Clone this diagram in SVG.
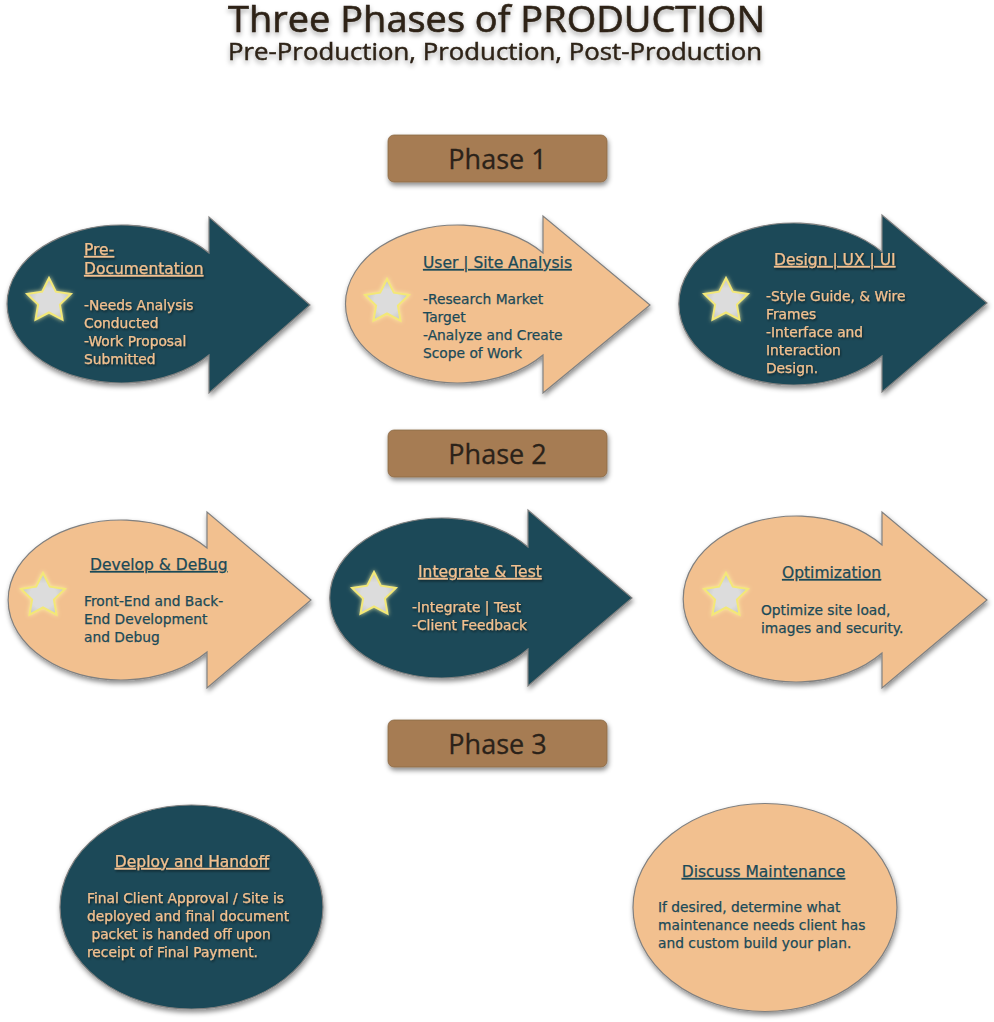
<svg xmlns="http://www.w3.org/2000/svg" width="994" height="1022" viewBox="0 0 994 1022">
<defs>
<style>
.teal{fill:#1b4a58;stroke:#808080;stroke-width:1.2}
.peach{fill:#f2c08f;stroke:#808080;stroke-width:1.2}
.phase{fill:#a67c52;stroke:#8a6a48;stroke-width:0.8}
.ptxt{font-family:"Open Sans","Liberation Sans",sans-serif;font-size:27px;fill:#2b2219;stroke:#2b2219;stroke-width:0.3;text-anchor:middle}
.hd{font-family:"DejaVu Sans","Liberation Sans",sans-serif;font-size:15.5px;text-decoration:underline}
.bd{font-family:"DejaVu Sans","Liberation Sans",sans-serif;font-size:13.8px}
.lt{fill:#f2c08f;stroke:#f2c08f;stroke-width:0.25}
.dk{fill:#1b4a58;stroke:#1b4a58;stroke-width:0.25}
.star{fill:url(#sg);stroke:#f3e877;stroke-width:2;stroke-linejoin:miter}
</style>
<filter id="sh" x="-10%" y="-10%" width="125%" height="130%">
<feDropShadow dx="1" dy="3" stdDeviation="2.5" flood-color="#000" flood-opacity="0.45"/>
</filter>
<filter id="tsh" x="-5%" y="-20%" width="110%" height="160%">
<feDropShadow dx="0" dy="3" stdDeviation="2.5" flood-color="#000" flood-opacity="0.35"/>
</filter>
<filter id="ts" x="-5%" y="-20%" width="110%" height="160%">
<feDropShadow dx="1" dy="1.5" stdDeviation="1" flood-color="#000" flood-opacity="0.55"/>
</filter>
<filter id="glow" x="-30%" y="-30%" width="160%" height="160%">
<feGaussianBlur in="SourceAlpha" stdDeviation="2" result="b"/>
<feFlood flood-color="#fff6a8" flood-opacity="0.8"/>
<feComposite in2="b" operator="in" result="g"/>
<feMerge><feMergeNode in="g"/><feMergeNode in="SourceGraphic"/></feMerge>
</filter>
<radialGradient id="sg" cx="0.5" cy="0.55" r="0.6">
<stop offset="0.5" stop-color="#dcdcdc"/>
<stop offset="1" stop-color="#bdbdbd"/>
</radialGradient>
<path id="st" class="star" filter="url(#glow)" d="M0,-23 L6.8,-9.3 L21.9,-7.1 L10.9,3.6 L13.5,18.6 L0,11.5 L-13.5,18.6 L-10.9,3.6 L-21.9,-7.1 L-6.8,-9.3 Z"/>
</defs>
<rect width="994" height="1022" fill="#ffffff"/>

<g id="title" filter="url(#tsh)" fill="#2e2419" stroke="#2e2419">
<text x="496.5" y="32" text-anchor="middle" font-family="Open Sans, Liberation Sans, sans-serif" font-size="36" stroke-width="0.6" textLength="537" lengthAdjust="spacingAndGlyphs">Three Phases of PRODUCTION</text>
<text x="495" y="60" text-anchor="middle" font-family="Open Sans, Liberation Sans, sans-serif" font-size="23" stroke-width="0.45" textLength="534" lengthAdjust="spacingAndGlyphs">Pre-Production, Production, Post-Production</text>
</g>

<g id="phase1">
<rect class="phase" x="388" y="135" width="219" height="47" rx="6" filter="url(#sh)"/>
<text class="ptxt" x="497.5" y="169">Phase 1</text>
</g>
<g id="phase2">
<rect class="phase" x="388" y="430" width="219" height="47" rx="6" filter="url(#sh)"/>
<text class="ptxt" x="497.5" y="464">Phase 2</text>
</g>
<g id="phase3">
<rect class="phase" x="388" y="720" width="219" height="47" rx="6" filter="url(#sh)"/>
<text class="ptxt" x="497.5" y="754">Phase 3</text>
</g>

<g id="pre-documentation">
<path class="teal" filter="url(#sh)" d="M209,253 L209,217 L310,305 L209,393 L209,355 A114.5 79 0 1 1 209,253 Z"/>
<use href="#st" x="49" y="301"/>
<g filter="url(#ts)">
<text class="hd lt" x="84" y="255">Pre-</text>
<text class="hd lt" x="84" y="274">Documentation</text>
<text class="bd lt" x="84" y="310">-Needs Analysis</text>
<text class="bd lt" x="84" y="328">Conducted</text>
<text class="bd lt" x="84" y="346">-Work Proposal</text>
<text class="bd lt" x="84" y="364">Submitted</text>
</g>
</g>

<g id="user-site-analysis">
<path class="peach" filter="url(#sh)" d="M543,253 L543,216 L650,305 L543,393 L543,355 A112 79 0 1 1 543,253 Z"/>
<use href="#st" x="387" y="302"/>
<text class="hd dk" x="423" y="268">User | Site Analysis</text>
<text class="bd dk" x="423" y="304">-Research Market</text>
<text class="bd dk" x="423" y="322">Target</text>
<text class="bd dk" x="423" y="340">-Analyze and Create</text>
<text class="bd dk" x="423" y="358">Scope of Work</text>
</g>

<g id="design-ux-ui">
<path class="teal" filter="url(#sh)" d="M882,252 L882,215 L987,303 L882,392 L882,356 A115 81 0 1 1 882,252 Z"/>
<use href="#st" x="726" y="301"/>
<g filter="url(#ts)">
<text class="hd lt" x="774" y="265">Design | UX | UI</text>
<text class="bd lt" x="766" y="301">-Style Guide, &amp; Wire</text>
<text class="bd lt" x="766" y="319">Frames</text>
<text class="bd lt" x="766" y="337">-Interface and</text>
<text class="bd lt" x="766" y="355">Interaction</text>
<text class="bd lt" x="766" y="373">Design.</text>
</g>
</g>

<g id="develop-debug">
<path class="peach" filter="url(#sh)" d="M207,548 L207,512 L311,600 L207,688 L207,652 A113 80 0 1 1 207,548 Z"/>
<use href="#st" x="43" y="596"/>
<text class="hd dk" x="90" y="570">Develop &amp; DeBug</text>
<text class="bd dk" x="84" y="606">Front-End and Back-</text>
<text class="bd dk" x="84" y="624">End Development</text>
<text class="bd dk" x="84" y="642">and Debug</text>
</g>

<g id="integrate-test">
<path class="teal" filter="url(#sh)" d="M528,547 L528,510 L632,598 L528,686 L528,649 A112 80 0 1 1 528,547 Z"/>
<use href="#st" x="374" y="595"/>
<g filter="url(#ts)">
<text class="hd lt" x="418" y="577">Integrate &amp; Test</text>
<text class="bd lt" x="412" y="612">-Integrate | Test</text>
<text class="bd lt" x="412" y="630">-Client Feedback</text>
</g>
</g>

<g id="optimization">
<path class="peach" filter="url(#sh)" d="M882,545 L882,512 L987,600 L882,688 L882,653 A113 83 0 1 1 882,545 Z"/>
<use href="#st" x="726" y="596"/>
<text class="hd dk" x="782" y="578">Optimization</text>
<text class="bd dk" x="761" y="615">Optimize site load,</text>
<text class="bd dk" x="761" y="633">images and security.</text>
</g>

<g id="deploy-handoff">
<ellipse class="teal" filter="url(#sh)" cx="191.5" cy="907" rx="131.5" ry="102"/>
<g filter="url(#ts)">
<text class="hd lt" x="192" y="867" text-anchor="middle">Deploy and Handoff</text>
<text class="bd lt" x="87" y="903">Final Client Approval / Site is</text>
<text class="bd lt" x="87" y="921">deployed and final document</text>
<text class="bd lt" x="87" y="939" xml:space="preserve"> packet is handed off upon</text>
<text class="bd lt" x="87" y="957">receipt of Final Payment.</text>
</g>
</g>

<g id="discuss-maintenance">
<ellipse class="peach" filter="url(#sh)" cx="765" cy="907.5" rx="132" ry="104"/>
<text class="hd dk" x="763.5" y="877" text-anchor="middle">Discuss Maintenance</text>
<text class="bd dk" x="658" y="912">If desired, determine what</text>
<text class="bd dk" x="658" y="930">maintenance needs client has</text>
<text class="bd dk" x="658" y="948">and custom build your plan.</text>
</g>

<g id="connectors"/>
</svg>
